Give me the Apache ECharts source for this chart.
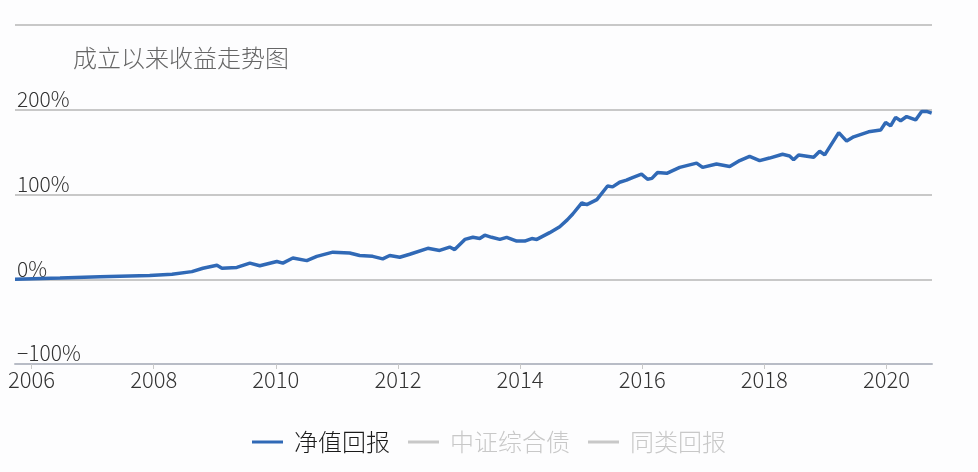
<!DOCTYPE html>
<html>
<head>
<meta charset="utf-8">
<script src="https://cdn.jsdelivr.net/npm/echarts@6/dist/echarts.min.js"></script>
<style>
html,body{margin:0;padding:0;background:#fdfdfe;}
#chart{width:978px;height:472px;}
</style>
</head>
<body>
<div id="chart"></div>
<script>
const titleText = '成立以来收益走势图';
const seriesNames = ['净值回报', '中证综合债', '同类回报'];
const yTicks = [-100, 0, 100, 200, 300];
const xTickYears = [2006, 2008, 2010, 2012, 2014, 2016, 2018, 2020];
const xRange = ['2005-09-24', '2020-09-30'];
const dates = [
 '2005-09-24','2006-06-20','2007-02-14','2007-12-08','2008-04-20','2008-08-17','2008-10-22',
 '2009-01-14','2009-02-13','2009-05-13','2009-07-30','2009-09-27','2010-01-07','2010-02-12',
 '2010-04-13','2010-07-05','2010-09-03','2010-12-08','2011-03-18','2011-05-17','2011-08-03',
 '2011-10-02','2011-11-13','2012-01-12','2012-03-12','2012-06-28','2012-09-07','2012-11-06',
 '2012-12-06','2013-02-05','2013-03-25','2013-05-05','2013-06-04','2013-07-15','2013-09-02',
 '2013-10-13','2013-12-12','2014-01-29','2014-03-12','2014-04-11','2014-06-27','2014-08-26',
 '2014-10-10','2014-11-12','2015-01-05','2015-02-04','2015-04-05','2015-06-08','2015-07-08',
 '2015-08-19','2015-09-29','2015-11-04','2015-12-28','2016-02-02','2016-02-28','2016-04-02',
 '2016-05-27','2016-08-13','2016-11-22','2016-12-28','2017-03-21','2017-06-08','2017-08-07',
 '2017-10-05','2017-12-04','2018-02-01','2018-04-20','2018-06-01','2018-06-25','2018-07-25',
 '2018-10-23','2018-11-28','2018-12-28','2019-03-22','2019-05-08','2019-06-19','2019-09-16',
 '2019-11-27','2019-12-27','2020-01-26','2020-02-25','2020-03-26','2020-05-01','2020-06-24',
 '2020-07-30','2020-08-29','2020-09-28'
];
const navReturn = [
 0,1.5,3,4.5,6,9,13,
 16.5,13,14,19,16,21,19,
 25,22,27,32,31,28,27,
 24,28,26,29.5,36.5,34,38,
 35,47,49.5,48,52,49.5,47,
 49.5,45,45,48,47,55,62,
 70,77,90,88,94,110,109,
 114.5,117,120,124,118,119,126,
 125,132,137,132,136,133,140,
 145,140,143,147.5,145.5,141,146.7,
 144,151,146.7,173,163,168,174,
 176,185,181,191,187,192,188,
 198,198,196
];
const bondIndex = [];
const peerReturn = [];

// date string -> fractional year, used as the value-axis coordinate
function toYear(s) {
  const d = new Date(s + 'T00:00:00Z');
  const y = d.getUTCFullYear();
  const start = Date.UTC(y, 0, 1), end = Date.UTC(y + 1, 0, 1);
  return y + (d.getTime() - start) / (end - start);
}

const FONT = "'Noto Sans CJK SC', 'Noto Sans', sans-serif";
const chart = echarts.init(document.getElementById('chart'));

chart.setOption({
  backgroundColor: '#fdfdfe',
  animation: false,
  title: {
    text: titleText,
    left: 68, top: 41,
    textStyle: {fontFamily: FONT, fontSize: 24, fontWeight: 300, color: '#666'}
  },
  legend: {
    left: 'center', bottom: 13,
    icon: 'rect', itemWidth: 31, itemHeight: 3, itemGap: 18,
    inactiveColor: '#c8c8c8',
    selected: {[seriesNames[1]]: false, [seriesNames[2]]: false},
    textStyle: {fontFamily: FONT, fontSize: 24, fontWeight: 300, color: '#1a1a1a', padding: [0,0,0,6]},
    data: seriesNames
  },
  grid: {left: 15, right: 46, top: 25, bottom: 108, containLabel: false},
  xAxis: {
    type: 'value',
    min: toYear(xRange[0]),
    max: toYear(xRange[1]),
    axisLine: {show: true, onZero: false, lineStyle: {color: '#b8bcc6', width: 2}},
    axisTick: {show: true, length: 5, customValues: xTickYears, lineStyle: {color: '#c8c8c8'}},
    splitLine: {show: false},
    axisLabel: {
      customValues: xTickYears,
      formatter: v => String(Math.round(v)),
      fontFamily: FONT, fontSize: 22, fontWeight: 300, color: '#333', margin: 5
    }
  },
  yAxis: {
    type: 'value',
    min: yTicks[0], max: yTicks[yTicks.length - 1], interval: 100,
    axisLine: {show: false},
    axisTick: {show: false},
    splitLine: {show: true, lineStyle: {color: '#c8c8c8', width: 2}},
    axisLabel: {
      inside: true, margin: 2, align: 'left', verticalAlign: 'bottom',
      fontFamily: FONT, fontSize: 21, fontWeight: 300, color: '#333',
      formatter: v => (v === yTicks[yTicks.length - 1] ? '' : String(v).replace('-', '\u2212') + '%')
    }
  },
  series: [
    {
      name: seriesNames[0], type: 'line', showSymbol: false, symbol: 'none',
      lineStyle: {width: 3.5, color: '#3069b6'}, itemStyle: {color: '#3069b6'},
      data: dates.map((d, i) => [toYear(d), navReturn[i]])
    },
    {name: seriesNames[1], type: 'line', symbol: 'none', itemStyle: {color: '#c8c8c8'}, data: bondIndex},
    {name: seriesNames[2], type: 'line', symbol: 'none', itemStyle: {color: '#c8c8c8'}, data: peerReturn}
  ]
});
</script>
</body>
</html>
